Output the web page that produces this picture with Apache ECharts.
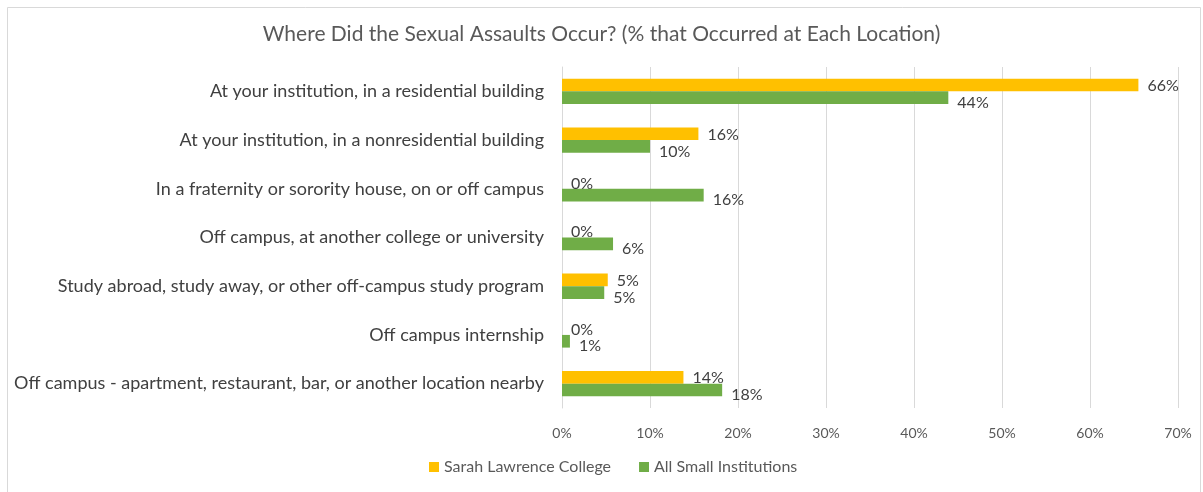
<!DOCTYPE html>
<html>
<head>
<meta charset="utf-8">
<title>Where Did the Sexual Assaults Occur?</title>
<script src="https://cdn.jsdelivr.net/npm/echarts@6/dist/echarts.min.js"></script>
<style>
  html, body { margin: 0; padding: 0; background: #fff; }
  #chart { width: 1203px; height: 492px; }
</style>
</head>
<body>
<div id="chart"></div>
<script>
// categories, top to bottom
var locations = [
  'At your institution, in a residential building',
  'At your institution, in a nonresidential building',
  'In a fraternity or sorority house, on or off campus',
  'Off campus, at another college or university',
  'Study abroad, study away, or other off-campus study program',
  'Off campus internship',
  'Off campus - apartment, restaurant, bar, or another location nearby'
];
// % that occurred at each location
var sarahLawrence = [65.5, 15.5, 0, 0, 5.2, 0, 13.8];
var smallInstitutions = [43.9, 10.0, 16.1, 5.8, 4.8, 0.9, 18.2];
var xTicks = [0, 10, 20, 30, 40, 50, 60, 70];

var fontName = 'Lato, "Open Sans", sans-serif';
var chart = echarts.init(document.getElementById('chart'));

function pct(p) {
  return Math.round(p.value) + '%';
}

var option = {
  backgroundColor: '#fff',
  animation: false,
  textStyle: { fontFamily: fontName },
  title: {
    text: 'Where Did the Sexual Assaults Occur? (% that Occurred at Each Location)',
    left: 'center',
    top: 19,
    textStyle: { fontFamily: fontName, fontSize: 21, fontWeight: 'normal', color: '#595959' }
  },
  legend: {
    bottom: 12,
    left: 424,
    itemWidth: 10,
    itemHeight: 10,
    itemGap: 28,
    icon: 'rect',
    textStyle: { fontFamily: fontName, fontSize: 16, color: '#595959' },
    data: ['Sarah Lawrence College', 'All Small Institutions']
  },
  grid: { left: 562, right: 25, top: 67, bottom: 84, containLabel: false },
  xAxis: {
    type: 'value',
    min: xTicks[0],
    max: xTicks[xTicks.length - 1],
    interval: 10,
    axisLine: { show: false },
    axisTick: { show: false },
    splitLine: { lineStyle: { color: '#d9d9d9', width: 1 } },
    axisLabel: {
      margin: 18,
      fontFamily: fontName,
      fontSize: 14,
      color: '#595959',
      formatter: '{value}%'
    }
  },
  yAxis: {
    type: 'category',
    inverse: true,
    data: locations,
    axisLine: { show: true, lineStyle: { color: '#d9d9d9' } },
    axisTick: { show: false },
    axisLabel: { margin: 18, fontFamily: fontName, fontSize: 18, color: '#404040' }
  },
  series: [
    {
      name: 'Sarah Lawrence College',
      type: 'bar',
      data: sarahLawrence,
      barGap: '0%',
      barCategoryGap: '48%',
      itemStyle: { color: '#FFC000' },
      label: {
        show: true,
        position: 'right',
        distance: 9,
        offset: [0, 1],
        fontFamily: fontName,
        fontSize: 16,
        color: '#404040',
        formatter: pct
      }
    },
    {
      name: 'All Small Institutions',
      type: 'bar',
      data: smallInstitutions,
      itemStyle: { color: '#70AD47' },
      label: {
        show: true,
        position: 'right',
        distance: 9,
        offset: [0, 5],
        fontFamily: fontName,
        fontSize: 16,
        color: '#404040',
        formatter: pct
      }
    }
  ],
  graphic: [{
    type: 'rect',
    left: 5,
    top: 5,
    shape: { width: 1193, height: 500 },
    style: { fill: 'none', stroke: '#d9d9d9', lineWidth: 1 },
    silent: true,
    z: -1
  }]
};

chart.setOption(option);
</script>
</body>
</html>
